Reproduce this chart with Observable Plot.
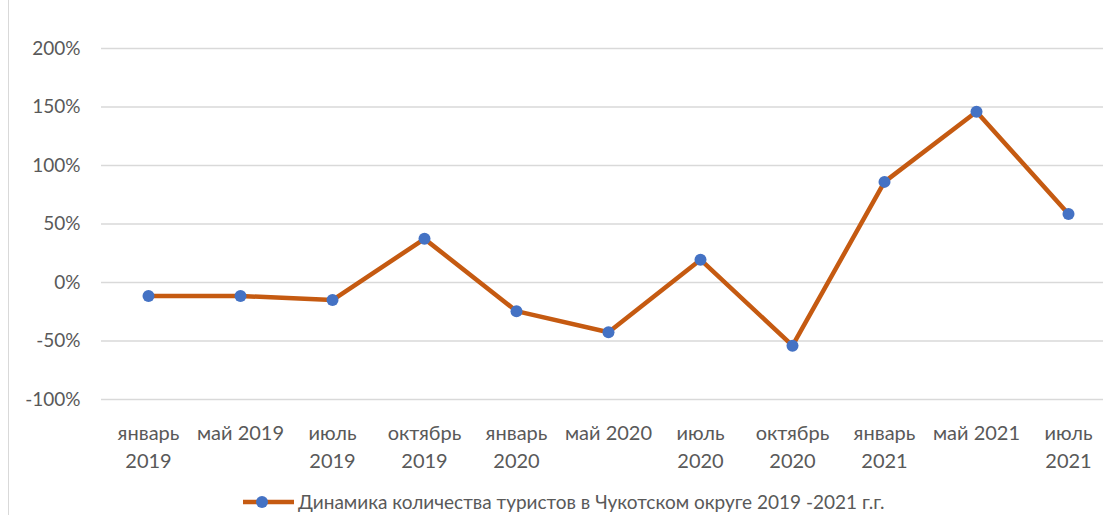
<!DOCTYPE html>
<html>
<head>
<meta charset="utf-8">
<script src="https://cdn.jsdelivr.net/npm/d3@7"></script>
<script src="https://cdn.jsdelivr.net/npm/@observablehq/plot@0.6"></script>
<style>
  html, body { margin: 0; padding: 0; background: #fff; overflow: hidden; }
  #wrap { position: relative; width: 1103px; height: 515px; }
  #frame { position: absolute; left: 8px; top: 0; width: 1px; height: 515px; background: #d9d9d9; }
  #chart { position: absolute; left: 0; top: 0; }
  #legend { position: absolute; left: 242px; top: 491px; display: flex; align-items: center;
    font-family: Lato, sans-serif; font-size: 19px; line-height: 22px; color: #595959; white-space: nowrap; }
  #legend svg { margin-right: 3px; }
</style>
</head>
<body>
<div id="wrap">
  <div id="frame"></div>
  <div id="chart"></div>
  <div id="legend"></div>
</div>
<script>
const categories = [
  "январь 2019", "май 2019", "июль 2019", "октябрь 2019", "январь 2020", "май 2020",
  "июль 2020", "октябрь 2020", "январь 2021", "май 2021", "июль 2021"
];
const tickLabels = [
  "январь\n2019", "май 2019", "июль\n2019", "октябрь\n2019", "январь\n2020", "май 2020",
  "июль\n2020", "октябрь\n2020", "январь\n2021", "май 2021", "июль\n2021"
];
const values = [-0.115, -0.115, -0.15, 0.373, -0.245, -0.425, 0.195, -0.54, 0.86, 1.46, 0.585];
const yTicks = [-1, -0.5, 0, 0.5, 1, 1.5, 2];
const seriesName = "Динамика количества туристов в Чукотском округе 2019 -2021 г.г.";

const data = categories.map((c, i) => ({ cat: c, value: values[i], label: tickLabels[i] }));

const lineColor = "#C55A11";
const dotColor = "#4472C4";
const textColor = "#595959";

const chart = Plot.plot({
  width: 1103,
  height: 490,
  marginLeft: 101,
  marginRight: 0,
  marginTop: 48,
  marginBottom: 91,
  style: { fontFamily: "Lato, sans-serif", color: textColor, background: "transparent" },
  x: { type: "point", domain: categories, range: [147, 1069], padding: 0, axis: null },
  y: { domain: [-1, 2], axis: null },
  marks: [
    Plot.gridY(yTicks, { stroke: "#d9d9d9", strokeOpacity: 1, strokeWidth: 1.5 }),
    Plot.axisY(yTicks, {
      tickSize: 0, tickPadding: 21, fontSize: 19, fill: textColor,
      tickFormat: d => Math.round(d * 100) + "%", label: null
    }),
    Plot.text(data, {
      x: "cat", text: "label", frameAnchor: "bottom", dy: 21, lineAnchor: "top",
      lineHeight: 1.4, fontSize: 20, fill: textColor
    }),
    Plot.line(data, { x: "cat", y: "value", stroke: lineColor, strokeWidth: 4.5, strokeLinejoin: "round" }),
    Plot.dot(data, { x: "cat", y: "value", r: 6, fill: dotColor, stroke: "none" })
  ]
});
document.getElementById("chart").appendChild(chart);

const legend = document.getElementById("legend");
legend.innerHTML =
  `<svg width="53" height="14"><line x1="1" y1="7" x2="52" y2="7" stroke="${lineColor}" stroke-width="4.5"/>` +
  `<circle cx="20" cy="7" r="6" fill="${dotColor}"/></svg><span></span>`;
legend.querySelector("span").textContent = seriesName;
</script>
</body>
</html>
